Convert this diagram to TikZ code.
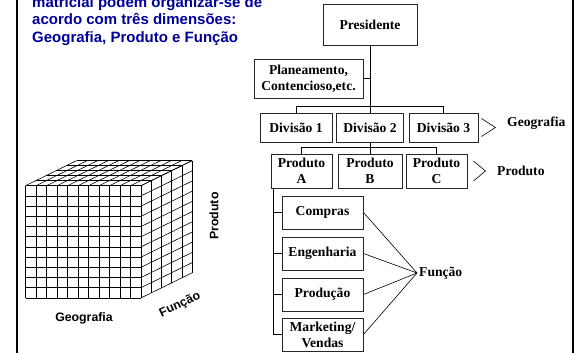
\documentclass[tikz,border=0pt]{standalone}
\usepackage{fontspec}
\setmainfont{Liberation Serif}[BoldFont={Liberation Serif Bold}]
\newfontfamily\sansf{Liberation Sans}[BoldFont={Liberation Sans Bold}]
\usetikzlibrary{calc}
\definecolor{titleblue}{RGB}{0,0,153}
\tikzset{
  orgbox/.style={draw=black!85, line width=0.9pt, inner sep=0pt, align=center,
    font=\bfseries\fontsize{13.6}{16}\selectfont},
  conn/.style={draw=black, line width=0.8pt},
  dimlabel/.style={font=\bfseries\fontsize{13.6}{16}\selectfont, inner sep=0pt},
  cubelabel/.style={font=\sansf\bfseries\fontsize{12.3}{14}\selectfont, inner sep=0pt},
  titletext/.style={font=\sansf\bfseries\fontsize{15}{17}\selectfont, text=titleblue, inner sep=0pt, anchor=base west},
  grid line/.style={black, line width=0.6pt},
  frame line/.style={black, line width=2pt}
}
\begin{document}
\begin{tikzpicture}[x=1pt,y=-1pt]
\useasboundingbox (0,0) rectangle (579,353);
\clip (0,0) rectangle (579,353);
% frame lines
\draw[frame line] (17,0) -- (17,353);
\draw[frame line] (573,0) -- (573,353);
% title
\node[titletext] (t1) at (32,7.5) {matricial podem organizar-se de};
\node[titletext] (t2) at (32,25) {acordo com três dimensões:};
\node[titletext] (t3) at (32,42.5) {Geografia, Produto e Função};
% cube
\def\fx{25.5}\def\fy{185.7}\def\cw{10.5}\def\ch{10.2}\def\ddx{10.2}\def\ddy{-5}
% front face
\foreach \i in {0,...,11}{
  \draw[grid line] ({\fx+\i*\cw},\fy) -- ({\fx+\i*\cw},{\fy+11*\ch});
  \draw[grid line] (\fx,{\fy+\i*\ch}) -- ({\fx+11*\cw},{\fy+\i*\ch});
}
% top face
\foreach \i in {0,...,11}{
  \draw[grid line] ({\fx+\i*\cw},\fy) -- ({\fx+\i*\cw+5*\ddx},{\fy+5*\ddy});
}
\foreach \k in {1,...,5}{
  \draw[grid line] ({\fx+\k*\ddx},{\fy+\k*\ddy}) -- ({\fx+11*\cw+\k*\ddx},{\fy+\k*\ddy});
}
% right face
\foreach \i in {0,...,11}{
  \draw[grid line] ({\fx+11*\cw},{\fy+\i*\ch}) -- ({\fx+11*\cw+5*\ddx},{\fy+\i*\ch+5*\ddy});
}
\foreach \k in {1,...,5}{
  \draw[grid line] ({\fx+11*\cw+\k*\ddx},{\fy+\k*\ddy}) -- ({\fx+11*\cw+\k*\ddx},{\fy+11*\ch+\k*\ddy});
}
% cube labels
\node[cubelabel] (cg) at (84,318) {Geografia};
\node[cubelabel, rotate=25] (cf) at (180,305) {Função};
\node[cubelabel, rotate=90] (cp) at (214,216) {Produto};
% org chart
\node[orgbox, minimum width=94pt, minimum height=41pt] (pres) at (370,24.5) {Presidente};
\node[orgbox, minimum width=109pt, minimum height=39pt] (plan) at (308.5,78.5) {Planeamento,\\Contencioso,etc.};
\node[orgbox, minimum width=72pt, minimum height=29pt] (d1) at (296,127.5) {Divisão 1};
\node[orgbox, minimum width=67pt, minimum height=29pt] (d2) at (370,127.5) {Divisão 2};
\node[orgbox, minimum width=69pt, minimum height=29pt] (d3) at (443.5,127.5) {Divisão 3};
\node[orgbox, minimum width=61pt, minimum height=34pt] (pa) at (301.5,171) {Produto\\A};
\node[orgbox, minimum width=64pt, minimum height=34pt] (pb) at (370,171) {Produto\\B};
\node[orgbox, minimum width=61pt, minimum height=34pt] (pc) at (436.5,171) {Produto\\C};
\node[orgbox, minimum width=81pt, minimum height=33pt] (f1) at (322.5,212.5) {Compras};
\node[orgbox, minimum width=81pt, minimum height=33pt] (f2) at (322.5,253.5) {Engenharia};
\node[orgbox, minimum width=81pt, minimum height=33pt] (f3) at (322.5,294.5) {Produção};
\node[orgbox, minimum width=81pt, minimum height=33pt] (f4) at (322.5,334.5) {Marketing/\\Vendas};
% dimension labels
\node[dimlabel, anchor=west] (lg) at (507,123) {Geografia};
\node[dimlabel, anchor=west] (lp) at (497,171) {Produto};
\coordinate (fp) at (417,273);
\node[dimlabel, anchor=west] (lf) at (419,273) {Função};
% connectors
\draw[conn] (pres.south) -- (d2.north);
\draw[conn] (plan.east) -- (plan.east -| pres.south);
\draw[conn] (d1.north) -- ++(0,-6) -| (d3.north);
\draw[conn] (d2.south) -- ++(0,5) coordinate (pbus);
\draw[conn] (pa.north) |- (pbus) -| (pc.north);
\draw[conn] (pbus) -- (pb.north);
\coordinate (vtop) at ($(pa.south west)+(3,0)$);
\draw[conn] (vtop) |- (f4.west);
\foreach \f in {f1,f2,f3}{
  \draw[conn] (\f.west) -- (\f.west -| vtop);
}
\foreach \f in {f1,f2,f3,f4}{
  \draw[black, line width=0.6pt] (\f.east) -- (fp);
}
% chevrons
\draw[black, line width=0.6pt] ($(d3.east)+(3,-9)$) -- ($(d3.east)+(17,0)$) -- ($(d3.east)+(3,9)$);
\draw[black, line width=0.6pt] ($(pc.east)+(6,-10)$) -- ($(pc.east)+(18,0)$) -- ($(pc.east)+(6,10)$);
\end{tikzpicture}
\end{document}
